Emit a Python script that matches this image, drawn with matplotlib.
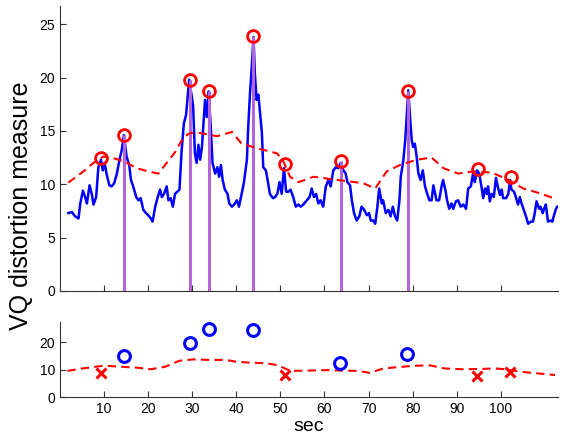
import matplotlib
matplotlib.use("Agg")
import matplotlib.pyplot as plt

plt.rcParams['font.family'] = ['Liberation Sans', 'DejaVu Sans']

# VQ distortion trace (sec, value)
t = [1.9, 2.7, 3.4, 4.2, 4.6, 5.2, 5.7, 6.1, 6.7, 7.2, 7.6, 8.2, 8.7, 9.3, 9.7, 10.1,
     10.6, 11.2, 11.7, 12.3, 12.9, 13.5, 14.0, 14.5, 15.1, 15.7, 16.1, 16.6, 17.3, 17.8,
     18.3, 18.9, 19.5, 20.0, 20.6, 21.0, 21.6, 22.1, 22.7, 23.1, 23.6, 24.2, 24.6, 25.1,
     25.6, 26.1, 26.6, 27.1, 27.6, 28.1, 28.6, 29.3, 29.9, 30.2, 30.6, 31.0, 31.4, 31.8,
     32.2, 32.5, 32.9, 33.3, 33.7, 34.2, 34.6, 35.2, 35.7, 36.1, 36.5, 36.9, 37.4, 38.0,
     38.4, 39.0, 39.5, 40.1, 40.6, 41.2, 41.7, 42.4, 42.7, 43.1, 43.5, 43.9, 44.2, 44.6,
     45.0, 45.4, 45.8, 46.1, 46.7, 47.1, 47.6, 48.3, 48.8, 49.3, 49.8, 50.3, 50.8, 51.3,
     51.8, 52.3, 52.9, 53.5, 54.1, 54.6, 55.2, 56.0, 56.6, 57.1, 57.6, 58.1, 58.6, 59.1,
     59.7, 60.3, 60.9, 61.4, 62.0, 62.6, 63.1, 63.7, 64.3, 64.8, 65.2, 65.8, 66.2, 66.7,
     67.3, 67.9, 68.4, 69.0, 69.6, 70.1, 70.5, 71.1, 71.5, 72.0, 72.4, 73.0, 73.3, 73.9,
     74.5, 75.0, 75.5, 76.0, 76.5, 77.0, 77.3, 77.9, 78.3, 78.6, 79.0, 79.4, 79.8, 80.1,
     80.5, 80.9, 81.3, 81.8, 82.3, 82.8, 83.3, 83.8, 84.3, 84.7, 85.1, 85.4, 86.0, 86.6,
     86.9, 87.5, 87.8, 88.3, 88.8, 89.2, 89.8, 90.3, 90.9, 91.5, 92.1, 92.6, 93.2, 93.7,
     94.1, 94.6, 95.1, 95.6, 96.0, 96.4, 96.8, 97.1, 97.5, 97.9, 98.4, 98.9, 99.3, 99.8,
     100.2, 100.5, 101.2, 101.7, 102.1, 102.4, 103.0, 103.4, 103.9, 104.3, 104.7, 105.2,
     105.7, 106.2, 106.8, 107.3, 107.7, 108.1, 108.7, 109.0, 109.5, 109.8, 110.2, 110.7,
     111.3, 111.7, 112.0, 112.5, 112.8]
vq = [7.3, 7.4, 7.0, 6.8, 8.2, 9.4, 8.8, 8.2, 9.9, 9.1, 8.1, 8.8, 11.6, 12.3, 11.3, 12.0,
      10.9, 9.9, 9.8, 10.1, 11.0, 12.3, 13.2, 14.6, 12.6, 11.8, 10.4, 9.8, 8.8, 8.5,
      8.7, 7.6, 7.3, 7.1, 6.8, 6.5, 7.9, 8.7, 9.5, 8.8, 9.1, 9.8, 8.5, 8.7,
      7.9, 9.1, 9.3, 9.5, 13.2, 15.7, 16.5, 19.8, 18.2, 17.3, 12.9, 12.0, 13.7, 12.3,
      13.5, 15.4, 17.9, 16.3, 18.7, 15.4, 12.0, 11.0, 11.6, 10.7, 11.8, 10.4, 9.5, 9.1,
      8.2, 7.9, 8.1, 8.5, 7.9, 9.1, 10.1, 12.3, 15.4, 18.5, 21.0, 23.8, 20.4, 17.9,
      18.4, 16.6, 14.8, 11.6, 11.3, 10.4, 9.1, 8.7, 8.8, 9.1, 10.2, 9.1, 11.5, 9.3,
      9.3, 9.5, 8.8, 7.9, 8.1, 7.9, 8.1, 8.5, 8.8, 9.6, 8.8, 9.1, 8.2, 8.5,
      7.9, 9.8, 10.4, 9.8, 11.3, 11.6, 11.5, 12.0, 11.3, 11.0, 10.2, 9.9, 8.5, 7.3,
      6.6, 7.0, 7.9, 7.6, 7.1, 7.3, 6.6, 6.6, 6.3, 7.9, 9.6, 8.2, 8.5, 7.3,
      7.6, 7.0, 7.9, 7.0, 6.6, 8.5, 10.7, 12.3, 14.1, 16.0, 18.8, 16.3, 14.1, 13.5,
      13.8, 12.6, 11.0, 10.4, 11.3, 9.8, 9.1, 8.5, 8.5, 9.9, 9.1, 8.5, 8.5, 9.9,
      10.4, 9.3, 8.5, 7.7, 8.2, 7.7, 8.4, 8.5, 7.9, 8.1, 7.7, 9.6, 9.8, 11.0,
      10.2, 11.3, 11.0, 9.8, 8.7, 9.6, 9.1, 9.8, 8.4, 9.1, 8.8, 10.6, 9.8, 9.0,
      9.5, 8.7, 8.7, 9.1, 10.4, 9.5, 9.3, 8.8, 8.1, 8.8, 8.2, 7.6,
      7.0, 6.3, 6.5, 6.5, 7.3, 8.4, 7.7, 7.9, 7.3, 7.7, 8.1, 6.5,
      6.6, 6.5, 7.0, 7.7, 7.9]

# adaptive threshold, top panel
thr_t = [1.9, 5.3, 7.6, 9.8, 12.5, 14.8, 17.4, 20.1, 22.3, 24.2, 26.1, 28.0, 29.5, 31.8,
         35.6, 39.0, 41.2, 45.4, 49.2, 50.5, 52.2, 54.1, 57.5, 61.2, 65.8, 68.8, 71.5,
         74.1, 77.1, 80.9, 84.3, 87.0, 90.3, 93.7, 97.9, 101.3, 105.1, 108.9, 112.6]
thr_v = [10.15, 11.2, 12.0, 12.6, 12.4, 12.1, 11.5, 11.2, 11.0, 12.0, 13.0, 14.4, 14.8, 14.8,
         14.5, 14.9, 13.8, 13.3, 12.9, 12.3, 10.7, 10.2, 10.7, 10.5, 10.25, 10.1, 9.6,
         11.2, 11.8, 12.3, 12.5, 11.5, 11.0, 11.2, 11.1, 10.5, 9.6, 9.15, 8.6]

# detected peaks (red circles)
peak_t = [9.3, 14.5, 29.4, 33.7, 43.8, 51.0, 63.7, 78.9, 94.8, 102.3]
peak_v = [12.45, 14.6, 19.76, 18.7, 23.9, 11.9, 12.2, 18.7, 11.4, 10.7]

# accepted boundaries (purple lines)
bound_t = [14.5, 29.4, 33.7, 43.8, 63.7, 78.9]
bound_v = [14.6, 19.76, 18.7, 23.9, 12.2, 18.7]

# bottom panel
acc_t = [14.5, 29.4, 33.7, 43.8, 63.5, 78.8]
acc_v = [15.0, 19.7, 24.8, 24.5, 12.5, 15.7]
rej_t = [9.3, 51.0, 94.5, 102.0]
rej_v = [8.9, 8.1, 7.6, 9.2]
thr2_t = [1.7, 5.1, 10.0, 14.0, 17.3, 20.6, 23.8, 27.1, 30.3, 33.6, 37.6, 40.1, 43.3, 46.6,
          49.4, 51.0, 52.3, 56.3, 60.4, 64.5, 67.7, 70.2, 73.4, 77.5, 80.7, 84.0, 87.2,
          91.3, 95.4, 98.6, 101.1, 104.3, 108.4, 112.3]
thr2_v = [9.6, 10.5, 11.5, 11.1, 10.8, 10.2, 11.1, 13.3, 13.8, 13.6, 13.6, 12.9, 12.6, 12.4,
          11.7, 10.5, 9.6, 9.7, 9.9, 9.7, 9.6, 8.9, 10.5, 11.1, 11.5, 11.6, 10.5,
          10.2, 10.3, 10.5, 10.2, 9.3, 8.7, 8.1]

ticks_x = [10, 20, 30, 40, 50, 60, 70, 80, 90, 100]

fig = plt.figure(figsize=(5.63, 4.38), dpi=100)

ax1 = fig.add_axes([60 / 563, 147 / 438, 497.7 / 563, 285 / 438])
ax1.plot(t, vq, color='#0000ff', lw=1.8, zorder=2)
ax1.vlines(bound_t, 0, bound_v, color='#b266d9', lw=2.2, zorder=3)
ax1.plot(thr_t, thr_v, color='#ff0000', lw=1.5, dashes=(4, 2.5), zorder=4)
ax1.plot(peak_t, peak_v, 'o', ms=8.5, mfc='none', mec='#ff0000', mew=2, zorder=5)
ax1.set_xlim(0, 112.9)
ax1.set_ylim(0, 26.7)
ax1.set_yticks([0, 5, 10, 15, 20, 25])
ax1.set_xticks(ticks_x)
ax1.set_xticklabels([])

ax2 = fig.add_axes([60 / 563, 40.7 / 438, 497.7 / 563, 75.6 / 438])
ax2.plot(thr2_t, thr2_v, color='#ff0000', lw=1.5, dashes=(4, 2.5))
ax2.plot(acc_t, acc_v, 'o', ms=8.5, mfc='none', mec='#0000ff', mew=2.2)
ax2.plot(rej_t, rej_v, 'x', ms=7, mec='#ff0000', mew=2.2)
ax2.set_xlim(0, 112.9)
ax2.set_ylim(0, 27.5)
ax2.set_yticks([0, 10, 20])
ax2.set_xticks(ticks_x)
ax2.set_xlabel('sec', fontsize=14, labelpad=1)

for ax in (ax1, ax2):
    ax.spines['top'].set_visible(False)
    ax.spines['right'].set_visible(False)
    ax.spines['left'].set_color('#333333')
    ax.spines['bottom'].set_color('#333333')
    ax.tick_params(direction='in', length=4, width=0.8, labelsize=10, colors='#333333',
                   labelcolor='black')

fig.text(0.038, 0.531, 'VQ distortion measure', rotation=90, fontsize=18,
         ha='center', va='center')

fig.savefig('out.png', dpi=100)
